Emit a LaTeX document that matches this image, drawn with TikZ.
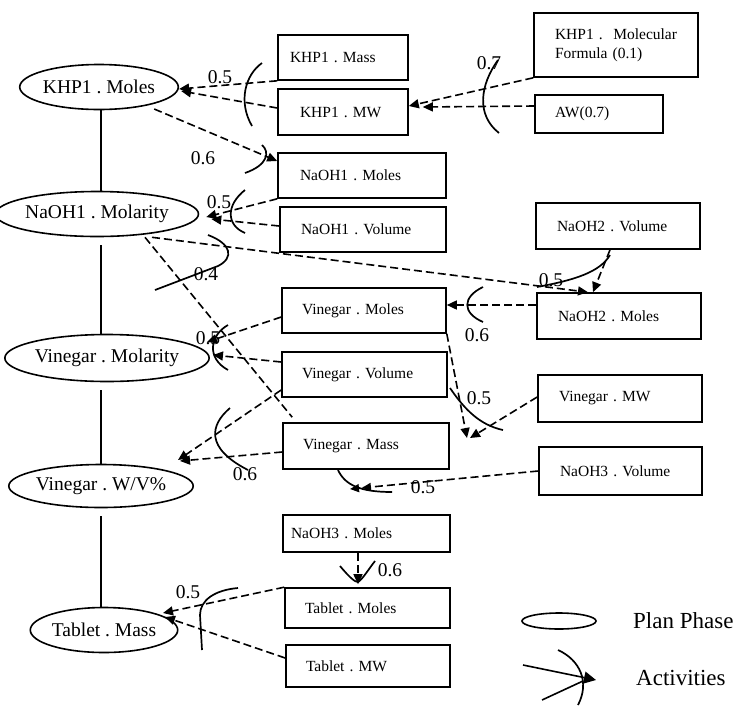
\documentclass[tikz,border=0pt]{standalone}
\usepackage{fontspec}
\setmainfont{Liberation Serif}
\usetikzlibrary{arrows.meta,shapes.geometric,calc}
\frenchspacing
\tikzset{
 ov/.style={ellipse,draw,line width=1.6pt,inner sep=0pt,font=\fontsize{19.5}{21}\selectfont},
 bx/.style={rectangle,draw,line width=1.6pt,inner sep=0pt,align=left,font=\fontsize{15.5}{19}\selectfont},
 dep/.style={line width=1.6pt,dash pattern=on 8pt off 4pt,-{Triangle[length=10pt,width=9pt]}},
 depdouble/.style={line width=1.6pt,dash pattern=on 8pt off 4pt,-{Triangle[length=9pt,width=8pt,sep=3pt]Triangle[length=9pt,width=8pt]}},
 deponly/.style={line width=1.6pt,dash pattern=on 8pt off 4pt},
 act/.style={line width=1.7pt},
 num/.style={font=\fontsize{19.5}{21}\selectfont,inner sep=0pt},
 spine/.style={line width=1.6pt},
 legtext/.style={font=\fontsize{23}{25}\selectfont,inner sep=0pt,anchor=west},
}
\newcommand\mkbox[7]{\pgfmathsetmacro\bxtw{#4-2*#6}\node[bx,minimum width=#4pt,minimum height=#5pt,text width=\bxtw pt] (#1) at (#2,#3) {#7};}
\begin{document}
\begin{tikzpicture}[x=1pt,y=-1pt]
\useasboundingbox (0,0) rectangle (744,705);
% plan phases
\node[ov,minimum width=146pt,minimum height=45pt] (e1) at (99,87) {KHP1 . Moles};
\node[ov,minimum width=175pt,minimum height=45pt] (e2) at (97,214) {NaOH1 . Molarity};
\node[ov,minimum width=191pt,minimum height=47pt] (e3) at (107,358) {Vinegar . Molarity};
\node[ov,minimum width=177pt,minimum height=43pt] (e4) at (101,486) {Vinegar . W/V\%};
\node[ov,minimum width=142pt,minimum height=45pt] (e5) at (104,630) {Tablet . Mass};
\coordinate (sp) at (101,0);
\draw[spine] (e1.south -| sp) -- (e2.north -| sp);
\draw[spine] ([yshift=-8pt]e2.south -| sp) -- (e3.north -| sp);
\draw[spine] ([yshift=-8pt]e3.south -| sp) -- (e4.north -| sp);
\draw[spine] ([yshift=-8pt]e4.south -| sp) -- (e5.north -| sp);
% boxes
\mkbox{khpmass}{343}{57.5}{130}{45}{12}{KHP1 . Mass}
\mkbox{khpmw}{343}{112}{130}{46}{22}{KHP1 . MW}
\mkbox{n1moles}{362}{175.5}{168}{45}{22}{NaOH1 . Moles}
\mkbox{n1vol}{363}{229.5}{166}{45}{21}{NaOH1 . Volume}
\mkbox{vmoles}{364}{310.5}{164}{45}{20}{Vinegar . Moles}
\mkbox{vvol}{364.5}{374.5}{165}{45}{20}{Vinegar . Volume}
\mkbox{vmass}{366}{446}{166}{46}{20}{Vinegar . Mass}
\mkbox{n3moles}{366.5}{533.5}{167}{37}{8}{NaOH3 . Moles}
\mkbox{tmoles}{367.5}{608}{165}{40}{20}{Tablet . Moles}
\mkbox{tmw}{368}{666}{164}{42}{20}{Tablet . MW}
\mkbox{formula}{616}{45}{164}{64}{21}{KHP1 .\hfill Molecular\\Formula (0.1)}
\mkbox{aw}{599}{114}{128}{38}{20}{AW(0.7)}
\mkbox{n2vol}{618}{226}{164}{46}{21}{NaOH2 . Volume}
\mkbox{n2moles}{619}{316}{164}{46}{21}{NaOH2 . Moles}
\mkbox{vmw}{620}{398.5}{164}{47}{21}{Vinegar . MW}
\mkbox{n3vol}{620.5}{471}{163}{48}{21}{NaOH3 . Volume}
% free ends
\coordinate (vmt) at (467,438);
\coordinate (n3t) at (350,489);
% connectors
\draw[dep] (khpmass.south west) -- ([yshift=-2pt]e1.east);
\draw[dep] ([yshift=4pt]khpmw.west) -- ([xshift=2pt,yshift=-4pt]e1.east);
\draw[dep] (formula.south west) -- ([yshift=6pt]khpmw.east);
\draw[dep] ([yshift=8pt]aw.west) -- ([xshift=14pt,yshift=5pt]khpmw.east);
\draw[dep] ([xshift=29pt]e1.-40) -- ([yshift=14.5pt]n1moles.west);
\draw[dep] (n1moles.south west) -- ([xshift=7pt,yshift=-3pt]e2.east);
\draw[dep] ([yshift=3.5pt]n1vol.west) -- ([xshift=12pt,yshift=-5pt]e2.east);
\draw[dep] ([xshift=55pt]e2.south) -- ([xshift=-31pt]n2moles.north);
\draw[deponly] ([xshift=48pt]e2.south) -- ([xshift=10pt,yshift=5pt]vmass.north west);
\draw[dep] ([xshift=-8pt]n2vol.south) -- ([xshift=-26pt]n2moles.north);
\draw[dep] ([yshift=11pt]n2moles.west) -- ([yshift=5.5pt]vmoles.east);
\draw[dep] ([yshift=-6.5pt]vmoles.west) -- ([xshift=-3pt,yshift=16pt]e3.east);
\draw[dep] ([yshift=12.5pt]vvol.west) -- ([xshift=3pt,yshift=3pt]e3.east);
\draw[dep] ([yshift=-15.5pt]vvol.west) -- ([xshift=77pt,yshift=26pt]e4.center);
\draw[dep] ([yshift=-6pt]vmass.west) -- ([xshift=79pt,yshift=25pt]e4.center);
\draw[dep] (vmoles.south east) -- (vmt);
\draw[dep] ([yshift=1.5pt]vmw.west) -- ([xshift=3pt]vmt);
\draw[depdouble] (n3vol.west) -- (n3t);
\draw[dep] ([xshift=-8.5pt]n3moles.south) -- ([xshift=-9.5pt,yshift=3pt]tmoles.north);
\draw[dep] (tmoles.north west) -- ([xshift=59pt,yshift=17pt]e5.center);
\draw[dep] ([yshift=8pt]tmw.west) -- ([xshift=61pt,yshift=13pt]e5.center);
% activity arcs
\draw[act] (262,63) .. controls (245,75) and (238,102) .. (252,126);
\draw[act] (498,60) .. controls (480,85) and (476,115) .. (499,133);
\draw[act] (262,145) .. controls (270,152) and (268,165) .. (245,173);
\draw[act] (245,190) .. controls (226,205) and (226,225) .. (245,233);
\draw[act] (208,235) .. controls (232,244) and (234,258) .. (218,266) -- (155,290);
\draw[act] (610,255) .. controls (600,272) and (575,280) .. (537,287);
\draw[act] (483,287) .. controls (462,297) and (462,313) .. (483,322);
\draw[act] (228,325) .. controls (210,335) and (206,358) .. (228,370);
\draw[act] (230,408) .. controls (210,425) and (205,448) .. (248,470);
\draw[act] (450,388) .. controls (465,410) and (480,425) .. (503,430);
\draw[act] (338,470) .. controls (345,485) and (360,492) .. (392,492);
\draw[act] (340,566) .. controls (350,578) and (355,582) .. (358,582) .. controls (362,580) and (368,570) .. (375,561);
\draw[act] (238,588) .. controls (215,590) and (200,600) .. (200,615) -- (202,650);
% weights
\node[num] (w1) at (220,77) {0.5};
\node[num] (w2) at (489,63) {0.7};
\node[num] (w3) at (203,158) {0.6};
\node[num] (w4) at (219,202) {0.5};
\node[num] (w5) at (206,274) {0.4};
\node[num] (w6) at (551,280) {0.5};
\node[num] (w7) at (477,335) {0.6};
\node[num] (w8) at (208,338) {0.5};
\node[num] (w9) at (245,474) {0.6};
\node[num] (w10) at (479,398) {0.5};
\node[num] (w11) at (423,487) {0.5};
\node[num] (w12) at (390,570) {0.6};
\node[num] (w13) at (188,592) {0.5};
% legend
\node[ellipse,draw,line width=1.6pt,minimum width=74pt,minimum height=16pt,inner sep=0pt] (lege) at (559,621) {};
\node[legtext] (legp) at (633,621) {Plan Phase};
\coordinate (la1) at (523,665);
\coordinate (la2) at (542,700);
\coordinate (lat) at (596,680);
\draw[line width=1.6pt,-{Triangle[length=12pt,width=12pt]}] (la1) -- (lat);
\draw[line width=1.6pt] (la2) -- (583,681);
\draw[act] (558,650) .. controls (580,660) and (590,682) .. (578,705);
\node[legtext] (lega) at (636,678) {Activities};
\end{tikzpicture}
\end{document}
